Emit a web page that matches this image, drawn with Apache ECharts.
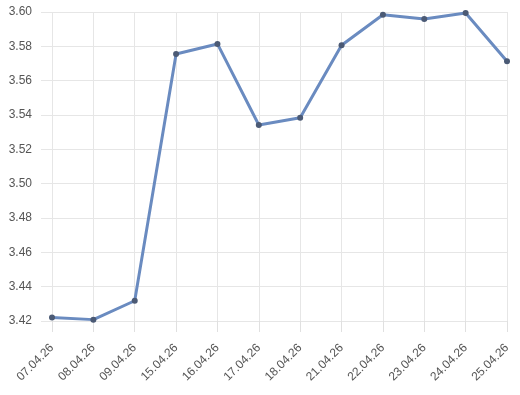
<!DOCTYPE html>
<html><head><meta charset="utf-8">
<script src="https://cdn.jsdelivr.net/npm/echarts@6/dist/echarts.min.js"></script>
<style>html,body{margin:0;padding:0;background:#fff}#c{width:520px;height:395px}</style>
</head><body><div id="c"></div>
<script>
const categories = ['07.04.26','08.04.26','09.04.26','15.04.26','16.04.26','17.04.26','18.04.26','21.04.26','22.04.26','23.04.26','24.04.26','25.04.26'];
const values = [3.4220, 3.4208, 3.4318, 3.5755, 3.5814, 3.5342, 3.5384, 3.5806, 3.5984, 3.5959, 3.5994, 3.5713];
const yMin = 3.42, yMax = 3.60, yStep = 0.02;

const chart = echarts.init(document.getElementById('c'), null, {renderer:'canvas'});
const font = 'Liberation Sans, Arial, sans-serif';
chart.setOption({
  animation: false,
  grid: [
    {left: 41, right: 13, top: 12, bottom: 74},
    {left: 52, right: 13, top: 12, bottom: 74}
  ],
  xAxis: [
    {gridIndex: 0, type: 'value', show: false, min: 0, max: 1},
    {gridIndex: 1, type: 'category', data: categories, boundaryGap: false,
     axisLine: {show: false},
     axisTick: {show: true, alignWithLabel: true, length: 11, lineStyle: {color: '#e0e0e0'}},
     splitLine: {show: true, lineStyle: {color: '#e6e6e6'}},
     axisLabel: {rotate: 45, margin: 25, color: '#555', fontSize: 12, fontFamily: font, interval: 0}}
  ],
  yAxis: [
    {gridIndex: 0, type: 'value', min: yMin, max: yMax, interval: yStep,
     axisLine: {show: false}, axisTick: {show: false},
     splitLine: {show: true, lineStyle: {color: '#e6e6e6'}},
     axisLabel: {color: '#555', fontSize: 12, fontFamily: font, margin: 9,
                 formatter: v => v.toFixed(2)}},
    {gridIndex: 1, type: 'value', min: yMin, max: yMax, interval: yStep, show: false,
     splitLine: {show: false}}
  ],
  series: [{
    type: 'line', xAxisIndex: 1, yAxisIndex: 1, data: values,
    symbol: 'circle', symbolSize: 6,
    lineStyle: {color: '#6a8bc0', width: 3},
    itemStyle: {color: '#4b5a75', borderColor: '#4b5a75', borderWidth: 0}
  }]
});
</script></body></html>
